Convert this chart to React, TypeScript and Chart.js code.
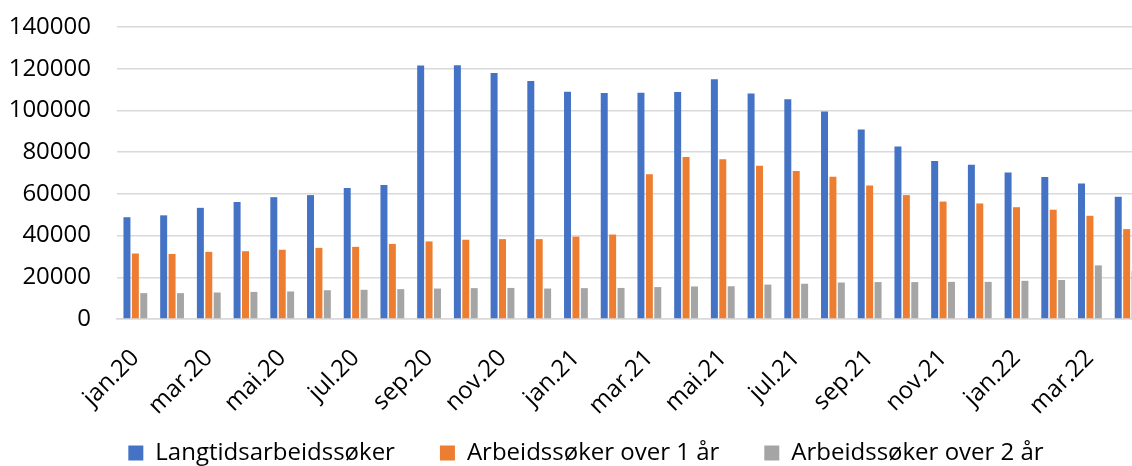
import React, { useEffect, useRef } from "react";
import { Chart, registerables } from "chart.js";

Chart.register(...registerables);

const categories = [
  "jan.20", "feb.20", "mar.20", "apr.20", "mai.20", "jun.20", "jul.20", "aug.20",
  "sep.20", "okt.20", "nov.20", "des.20", "jan.21", "feb.21", "mar.21", "apr.21",
  "mai.21", "jun.21", "jul.21", "aug.21", "sep.21", "okt.21", "nov.21", "des.21",
  "jan.22", "feb.22", "mar.22", "apr.22",
];

const langtid = [
  48800, 49700, 53300, 56100, 58400, 59400, 62800, 64200,
  121500, 121700, 118000, 114100, 108900, 108300, 108500, 108800,
  114900, 108100, 105300, 99500, 90900, 82700, 75700, 74000,
  70200, 68100, 65000, 58600,
];

const over1 = [
  31400, 31200, 32200, 32500, 33200, 34100, 34600, 36000,
  37200, 38000, 38300, 38300, 39500, 40500, 69400, 77700,
  76600, 73500, 71000, 68200, 64000, 59400, 56300, 55400,
  53600, 52400, 49500, 43100,
];

const over2 = [
  12400, 12400, 12700, 13000, 13200, 13800, 14000, 14300,
  14600, 14800, 14900, 14600, 14800, 14900, 15300, 15600,
  15700, 16500, 16900, 17500, 17700, 17700, 17800, 17800,
  18300, 18700, 25700, 23000,
];

const seriesNames = ["Langtidsarbeidssøker", "Arbeidssøker over 1 år", "Arbeidssøker over 2 år"];
const seriesColors = ["#4472C4", "#ED7D31", "#A5A5A5"];

const yMin = 0;
const yMax = 140000;
const yStep = 20000;

const FONT = "'Open Sans', 'Noto Sans', sans-serif";

export default function App() {
  const ref = useRef<HTMLCanvasElement>(null);

  useEffect(() => {
    if (!ref.current) return;
    const values = [langtid, over1, over2];
    const chart = new Chart(ref.current, {
      type: "bar",
      data: {
        labels: categories,
        datasets: values.map((d, i) => ({
          label: seriesNames[i],
          data: d,
          backgroundColor: seriesColors[i],
          borderWidth: 0,
          categoryPercentage: 0.687,
          barPercentage: 0.83,
          yAxisID: "y",
        })),
      },
      options: {
        responsive: false,
        animation: false,
        devicePixelRatio: 1,
        layout: { padding: { top: 27, left: 0, right: 0, bottom: 0 } },
        plugins: {
          tooltip: { enabled: false },
          legend: {
            position: "bottom",
            labels: {
              boxWidth: 15,
              boxHeight: 15,
              padding: 45,
              color: "#000",
              font: { family: FONT, size: 24 },
            },
          },
        },
        scales: {
          x: {
            grid: { display: false, drawTicks: false },
            border: { display: true, color: "#d9d9d9", width: 1.5 },
            ticks: {
              autoSkip: false,
              maxRotation: 45,
              minRotation: 45,
              padding: 25,
              color: "#000",
              font: { family: FONT, size: 24 },
              callback: (_v: any, i: number) => (i % 2 === 0 ? categories[i] : ""),
            },
            afterFit: (s: any) => {
              s.height = 77;
              s.paddingLeft = 0;
              s.paddingRight = 0;
              // let the rotated labels run below the (shortened) axis box
              s._computeLabelArea = () => null;
            },
          },
          y: {
            position: "left",
            min: yMin,
            max: yMax,
            grid: { color: "#d9d9d9", lineWidth: 1.5, drawTicks: false },
            border: { display: false },
            ticks: {
              stepSize: yStep,
              padding: 26,
              color: "#000",
              font: { family: FONT, size: 24 },
              callback: (v: any) => String(v),
            },
            afterFit: (s: any) => {
              s.width = 117;
              s.paddingTop = 0;
              s.paddingBottom = 0;
            },
          },
          spacer: {
            type: "linear",
            position: "right",
            display: true,
            grid: { display: false, drawTicks: false },
            border: { display: false },
            ticks: { display: false },
            afterFit: (s: any) => {
              s.width = 27;
              s.paddingTop = 0;
              s.paddingBottom = 0;
            },
          },
        },
      },
    });
    return () => chart.destroy();
  }, []);

  return (
    <div
      style={{
        position: "fixed",
        left: 0,
        top: 0,
        width: 1132,
        height: 466,
        overflow: "hidden",
        background: "#fff",
      }}
    >
      <canvas ref={ref} width={1172} height={475} style={{ display: "block" }} />
    </div>
  );
}
